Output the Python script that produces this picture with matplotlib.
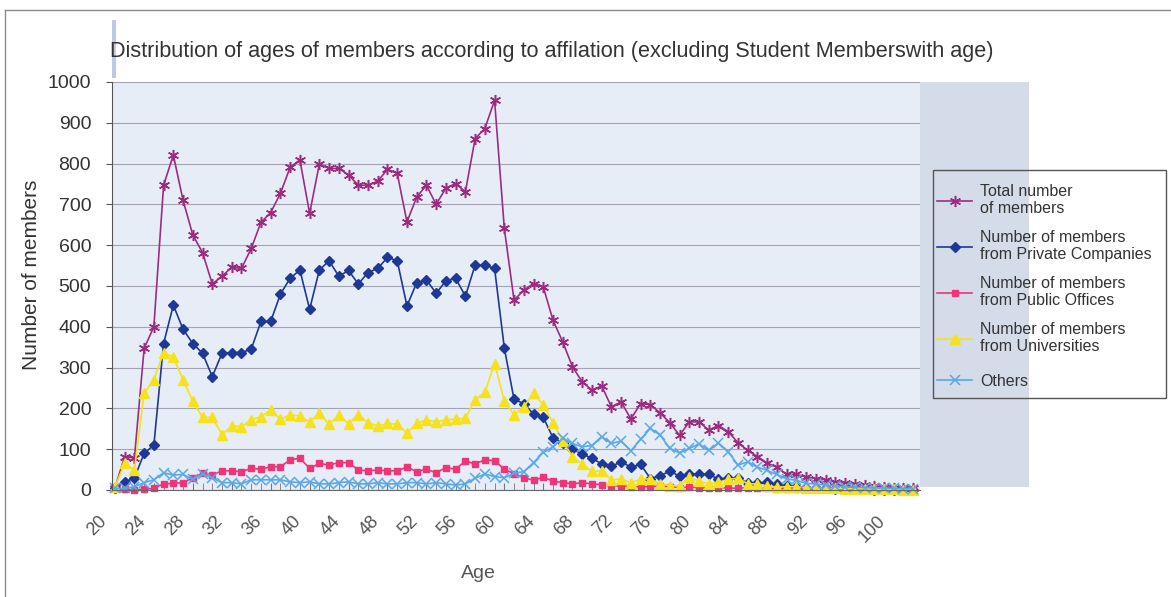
"""Age distribution of members by affiliation (line chart with markers)."""
import numpy as np
import matplotlib
matplotlib.use("Agg")
import matplotlib.pyplot as plt
import matplotlib.transforms as mtransforms
from matplotlib.lines import Line2D
from matplotlib.patches import Rectangle

plt.rcParams["font.family"] = ["Liberation Sans", "DejaVu Sans"]

# ------------------------------------------------------------
# data (ages 20..102)
# ------------------------------------------------------------
ages = list(range(20, 103))

total = [5, 82, 78, 347, 400, 747, 821, 710, 625, 582,
         505, 524, 546, 543, 592, 656, 680, 727, 791, 809,
         678, 799, 788, 788, 772, 747, 747, 757, 786, 776,
         657, 718, 747, 700, 740, 751, 731, 861, 886, 955,
         641, 465, 490, 506, 498, 416, 363, 302, 265, 245,
         255, 204, 216, 174, 212, 209, 189, 165, 134, 167,
         167, 147, 158, 143, 116, 97, 82, 66, 56, 38,
         38, 32, 28, 25, 20, 18, 14, 12, 10, 8,
         6, 5, 4]

private = [5, 20, 29, 90, 110, 359, 453, 394, 359, 335,
           278, 335, 337, 337, 345, 413, 413, 480, 519, 539,
           443, 539, 562, 524, 538, 505, 533, 543, 570, 562,
           451, 508, 515, 482, 513, 519, 475, 551, 551, 543,
           348, 222, 212, 186, 178, 128, 115, 100, 88, 78,
           64, 58, 69, 56, 63, 28, 35, 46, 34, 39,
           39, 39, 26, 29, 30, 17, 16, 19, 14, 10,
           8, 6, 5, 4, 3, 3, 2, 2, 1, 1,
           1, 1, 0]

public = [4, 2, 0, 2, 4, 15, 16, 18, 30, 41,
          37, 47, 47, 45, 53, 51, 57, 57, 74, 78,
          53, 65, 61, 67, 67, 49, 47, 49, 47, 47,
          56, 45, 51, 42, 55, 51, 71, 64, 74, 72,
          51, 40, 30, 24, 31, 22, 18, 15, 18, 15,
          13, 10, 10, 8, 8, 8, 10, 8, 6, 7,
          6, 5, 6, 5, 4, 6, 4, 4, 3, 3,
          3, 2, 2, 2, 2, 1, 1, 1, 1, 1,
          0, 0, 0]

universities = [8, 65, 49, 237, 270, 337, 325, 270, 217, 178,
                178, 136, 157, 155, 172, 180, 196, 173, 185, 181,
                167, 188, 161, 184, 162, 185, 165, 157, 163, 161,
                140, 163, 172, 167, 172, 174, 176, 221, 239, 310,
                219, 184, 204, 237, 209, 165, 120, 82, 63, 46,
                47, 25, 27, 18, 27, 27, 15, 11, 10, 31,
                22, 15, 19, 26, 29, 15, 15, 10, 7, 8,
                8, 5, 5, 4, 4, 3, 3, 3, 2, 2,
                2, 1, 1]

others = [4, 4, 8, 18, 25, 42, 37, 38, 26, 39,
          30, 18, 18, 15, 25, 25, 25, 25, 20, 18,
          20, 15, 15, 18, 20, 15, 15, 18, 15, 15,
          18, 18, 15, 18, 15, 12, 15, 29, 39, 33,
          30, 41, 45, 67, 92, 106, 127, 114, 106, 109,
          131, 114, 120, 96, 124, 151, 135, 102, 91, 102,
          113, 97, 115, 94, 61, 69, 56, 48, 38, 27,
          24, 16, 15, 12, 10, 8, 7, 6, 5, 5,
          4, 3, 3]

series_labels = ["Total number\nof members",
                 "Number of members\nfrom Private Companies",
                 "Number of members\nfrom Public Offices",
                 "Number of members\nfrom Universities",
                 "Others"]

xtick_ages = list(range(20, 101, 4))
yticks = list(range(0, 1001, 100))

# ------------------------------------------------------------
# figure
# ------------------------------------------------------------
W, H = 1171, 597
fig = plt.figure(figsize=(W / 100, H / 100), dpi=100)
ax = fig.add_axes([112 / W, 1 - 490 / H, (920 - 112) / W, (490 - 82) / H])
ax.set_facecolor("#e7edf7")

# darker band right of the plot area
fig.add_artist(Rectangle((920 / W, 1 - 487 / H), (1029 - 920) / W, (487 - 82) / H,
                         transform=fig.transFigure, facecolor="#d4dbe9",
                         edgecolor="none", zorder=0))
# outer frame lines (top / left)
fig.add_artist(Line2D([5 / W, 1], [1 - 10 / H, 1 - 10 / H], transform=fig.transFigure,
                      color="#8a8a8a", lw=1))
fig.add_artist(Line2D([5 / W, 5 / W], [0, 1 - 10 / H], transform=fig.transFigure,
                      color="#8a8a8a", lw=1))
fig.add_artist(Rectangle((112 / W, 1 - 78 / H), 4 / W, 58 / H,
                         transform=fig.transFigure, facecolor="#bccbe2",
                         edgecolor="none"))

specs = [
    (total, "#9d2c80", dict(marker=(6, 2, 0), markersize=8, markeredgewidth=1.1)),
    (private, "#1d3897", dict(marker="D", markersize=5.5)),
    (public, "#ef3478", dict(marker="s", markersize=5)),
    (universities, "#f5e21c", dict(marker="^", markersize=7)),
    (others, "#5aa7ea", dict(marker="x", markersize=7, markeredgewidth=1.1)),
]

handles = []
for vals, col, mk in specs:
    ln, = ax.plot(ages, vals, color=col, lw=1.2, markerfacecolor=col,
                  markeredgecolor=col, clip_on=False, **mk)
    handles.append(ln)

ax.set_xlim(19.7, 102.7)
ax.set_ylim(0, 1000)
ax.set_yticks(yticks)
ax.set_xticks(xtick_ages)
ax.set_xticks(ages, minor=True)
ax.set_xticklabels([str(a) for a in xtick_ages])

ax.grid(axis="y", color="#a3a3b3", lw=0.8)
ax.set_axisbelow(True)
for s in ("top", "right"):
    ax.spines[s].set_visible(False)
ax.spines["left"].set_color("#555555")
ax.spines["bottom"].set_color("#666666")

ax.tick_params(axis="y", direction="out", length=4, color="#555555",
               labelsize=14, labelcolor="#333333", pad=11)
ax.tick_params(axis="x", which="both", direction="in", length=5, color="#777777")
ax.tick_params(axis="x", which="major", labelsize=13, labelcolor="#555555", pad=16)

offset = mtransforms.ScaledTranslation(-17 / 100, 0, fig.dpi_scale_trans)
for lab in ax.get_xticklabels():
    lab.set_rotation(45)
    lab.set_ha("right")
    lab.set_va("top")
    lab.set_rotation_mode("anchor")
    lab.set_transform(lab.get_transform() + offset)

ax.set_ylabel("Number of members", fontsize=15, color="#333333")
ax.yaxis.set_label_coords(-0.088, 0.527)
ax.set_xlabel("Age", fontsize=14, color="#555555")
ax.xaxis.set_label_coords(0.453, -0.184)

fig.text(110 / W, 1 - 52 / H,
         "Distribution of ages of members according to affilation "
         "(excluding Student Memberswith age)",
         ha="left", va="center", fontsize=15.6, color="#333333")

# legend: box drawn by hand, entries in two frameless legends so that
# "Others" sits in its own slot like the original
fig.add_artist(Rectangle((933 / W, 1 - 398 / H), (1166 - 933) / W, (398 - 170) / H,
                         transform=fig.transFigure, facecolor="none",
                         edgecolor="#555555", lw=1))
leg_kw = dict(fontsize=11.5, frameon=False, handlelength=2.2, handletextpad=0.5,
              borderpad=0, borderaxespad=0)
leg1 = fig.legend(handles[:4], series_labels[:4], loc="upper left",
                  bbox_to_anchor=(937 / W, 1 - 184 / H), labelspacing=0.85, **leg_kw)
leg2 = fig.legend(handles[4:], series_labels[4:], loc="center left",
                  bbox_to_anchor=(937 / W, 1 - 381 / H), **leg_kw)
for leg in (leg1, leg2):
    for t in leg.get_texts():
        t.set_color("#333333")

fig.savefig("out.png", dpi=100)
